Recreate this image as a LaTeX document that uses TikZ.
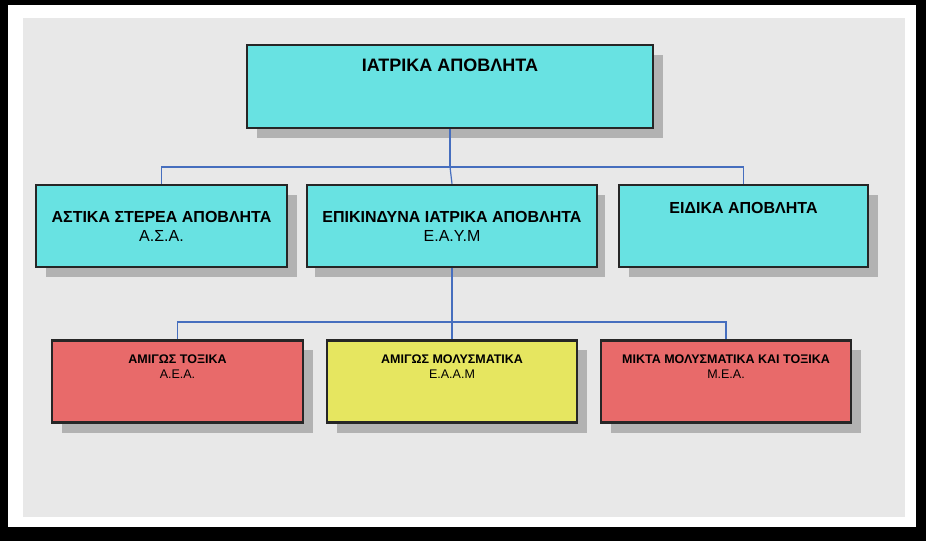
\documentclass[tikz,border=0pt]{standalone}
\usepackage{fontspec}
\setmainfont{Liberation Sans}
\definecolor{cy}{RGB}{104,226,226}
\definecolor{rd}{RGB}{232,106,106}
\definecolor{yl}{RGB}{230,230,96}
\definecolor{ln}{RGB}{70,110,190}
\begin{document}
\begin{tikzpicture}[x=1pt,y=-1pt,
  box/.style={draw=black!85,line width=2.5pt,minimum height=82pt,align=center,inner sep=2pt,
    font=\fontsize{16}{19}\selectfont},
  cyanbox/.style={box,fill=cy},
  redbox/.style={box,fill=rd,font=\fontsize{12.5}{15}\selectfont},
  yelbox/.style={box,fill=yl,font=\fontsize{12.5}{15}\selectfont},
  shad/.style={fill=black!30},
  conn/.style={draw=ln,line width=1.2pt}]
\fill[black] (0,0) rectangle (926,541);
\fill[white] (8,5) rectangle (916,527);
\fill[black!9] (23,18) rectangle (905,517);
\foreach \a/\b/\c/\d in {247/45/653/128,36/185/287/267,305/185/595/267,619/185/868/267,52/340/303/423,327/340/577/423,601/340/851/423}
  \fill[shad] (\a+10,\b+10) rectangle (\c+10,\d+10);
\coordinate (j1) at (450,167);
\coordinate (j2) at (452,322);
\node[cyanbox,minimum width=406pt,minimum height=83pt,font=\fontsize{18}{21}\selectfont\bfseries] (top) at (450,86.5) {ΙΑΤΡΙΚΑ ΑΠΟΒΛΗΤΑ\\[22pt]};
\node[cyanbox,minimum width=251pt] (asa) at (161.5,226) {\textbf{ΑΣΤΙΚΑ ΣΤΕΡΕΑ ΑΠΟΒΛΗΤΑ}\\Α.Σ.Α.};
\node[cyanbox,minimum width=290pt] (eaym) at (452,226) {\textbf{ΕΠΙΚΙΝΔΥΝΑ ΙΑΤΡΙΚΑ ΑΠΟΒΛΗΤΑ}\\Ε.Α.Υ.Μ};
\node[cyanbox,minimum width=249pt] (eid) at (743.5,226) {\textbf{ΕΙΔΙΚΑ ΑΠΟΒΛΗΤΑ}\\[18pt]};
\node[redbox,minimum width=251pt] (aea) at (177.5,381.5) {\textbf{ΑΜΙΓΩΣ ΤΟΞΙΚΑ}\\Α.Ε.Α.\\[14pt]};
\node[yelbox,minimum width=250pt] (eaam) at (452,381.5) {\textbf{ΑΜΙΓΩΣ ΜΟΛΥΣΜΑΤΙΚΑ}\\Ε.Α.Α.Μ\\[14pt]};
\node[redbox,minimum width=250pt] (mea) at (726,381.5) {\textbf{ΜΙΚΤΑ ΜΟΛΥΣΜΑΤΙΚΑ ΚΑΙ ΤΟΞΙΚΑ}\\Μ.Ε.Α.\\[14pt]};
\draw[conn] (top.south) -- (top.south |- j1);
\draw[conn] (asa.north) |- (j1) -| (eid.north);
\draw[conn] (j1) -- (eaym.north);
\draw[conn] (eaym.south) -- (j2);
\draw[conn] (aea.north) |- (j2) -| (mea.north);
\draw[conn] (j2) -- (eaam.north);
\useasboundingbox (0,0) rectangle (926,541);
\end{tikzpicture}
\end{document}
